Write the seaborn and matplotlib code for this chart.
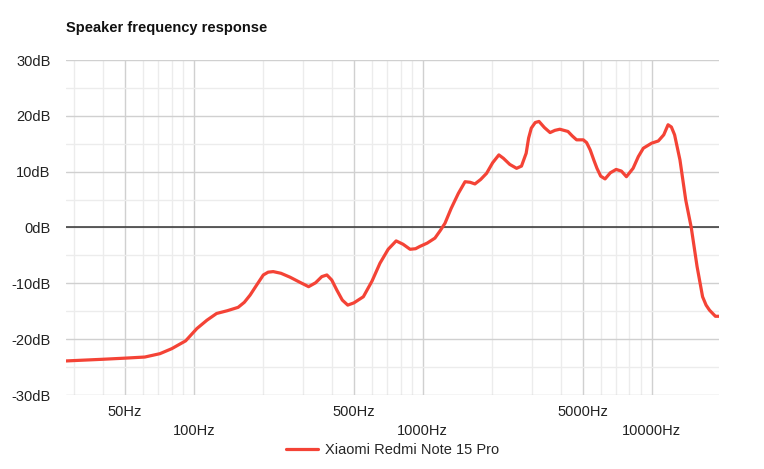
import numpy as np
import pandas as pd
import matplotlib
matplotlib.use("Agg")
import matplotlib.pyplot as plt
import seaborn as sns

# frequency response (Hz, dB)
freq = [27.6, 40, 50, 61, 71, 80, 92, 103, 114, 125.6, 140, 156, 166, 176, 188,
        201, 211, 222, 240, 263, 290, 317, 340, 362, 381, 400, 421, 445, 470,
        500, 550, 600, 650, 706, 765, 820, 880, 930, 970, 1045, 1130, 1190, 1250,
        1330, 1430, 1530, 1610, 1690, 1790, 1900, 2020, 2150, 2250, 2400, 2570,
        2700, 2830, 2900, 2980, 3100, 3220, 3400, 3600, 3780, 3970, 4310, 4500,
        4700, 5030, 5200, 5390, 5600, 5770, 5990, 6260, 6600, 7000, 7380, 7760,
        8300, 8750, 9200, 10000, 10700, 11300, 11800, 12200, 12600, 13300, 14100,
        14900, 15800, 16700, 17300, 17900, 19000, 19700]
db = [-23.9, -23.6, -23.4, -23.2, -22.6, -21.7, -20.3, -18.1, -16.6, -15.4, -14.9,
      -14.3, -13.4, -12.1, -10.3, -8.5, -8.0, -7.9, -8.2, -8.9, -9.8, -10.6, -9.9,
      -8.8, -8.5, -9.4, -11.2, -13.0, -13.9, -13.5, -12.4, -9.6, -6.4, -3.9, -2.4,
      -3.0, -3.9, -3.8, -3.4, -2.8, -1.9, -0.6, 0.75, 3.4, 6.1, 8.2, 8.1, 7.8, 8.6,
      9.7, 11.6, 13.0, 12.4, 11.3, 10.6, 11.0, 13.3, 16.0, 17.8, 18.8, 19.0, 17.9,
      17.0, 17.4, 17.6, 17.2, 16.4, 15.7, 15.7, 15.2, 13.9, 12.0, 10.6, 9.2, 8.7,
      9.8, 10.4, 10.1, 9.1, 10.6, 12.7, 14.2, 15.1, 15.5, 16.6, 18.4, 18.0, 16.6,
      12.1, 4.9, 0.0, -7.0, -12.4, -13.9, -14.8, -15.9, -15.9]

device = "Xiaomi Redmi Note 15 Pro"
major_freqs = [50, 100, 500, 1000, 5000, 10000]
major_labels = ["50Hz", "\n100Hz", "500Hz", "\n1000Hz", "5000Hz", "\n10000Hz"]
minor_freqs = [30, 40, 60, 70, 80, 90, 200, 300, 400, 600, 700, 800, 900,
               2000, 3000, 4000, 6000, 7000, 8000, 9000]

sns.set_style("white")
plt.rcParams['font.family'] = ['Liberation Sans', 'DejaVu Sans']

df = pd.DataFrame({"freq": freq, "db": db, "device": device})

fig = plt.figure(figsize=(7.64, 4.69), dpi=100)
ax = fig.add_axes([66/764, 1-395/469, (719-66)/764, (395-60)/469])

sns.lineplot(data=df, x="freq", y="db", hue="device", palette=["#f44336"],
             linewidth=2.3, ax=ax)
for ln in ax.get_lines():
    ln.set_solid_joinstyle("round")

ax.set_xscale("log")
ax.set_xlim(27.6, 19700)
ax.set_ylim(-30, 30)

ax.set_xticks(major_freqs)
ax.set_xticklabels(major_labels, linespacing=1.45)
ax.set_xticks(minor_freqs, minor=True)
ax.set_xticklabels([], minor=True)
ax.set_yticks(np.arange(-30, 31, 10))
ax.set_yticklabels([f"{v}dB" for v in range(-30, 31, 10)])
ax.set_yticks(np.arange(-25, 30, 10), minor=True)

ax.tick_params(axis="both", which="both", length=0, labelsize=10.5, colors="#222222")
ax.tick_params(axis="x", pad=7)
ax.tick_params(axis="y", pad=11)
for lbl in ax.get_xticklabels():
    lbl.set_verticalalignment("top")

ax.grid(which="major", color="#d0d0d0", linewidth=1)
ax.grid(which="minor", color="#ececec", linewidth=1)
ax.set_axisbelow(True)
ax.axhline(0, color="#333333", linewidth=1.1, zorder=1.5)

for s in ax.spines.values():
    s.set_visible(False)

ax.set_xlabel("")
ax.set_ylabel("")

ax.legend(loc="center", bbox_to_anchor=(0.5, -0.165), frameon=False,
          fontsize=10.5, handlelength=2.2, handletextpad=0.5)

fig.text(66/764, 1-28/469, "Speaker frequency response", fontsize=10.5,
         fontweight="bold", va="center", ha="left", color="#111111")

fig.savefig("out.png", dpi=100)
